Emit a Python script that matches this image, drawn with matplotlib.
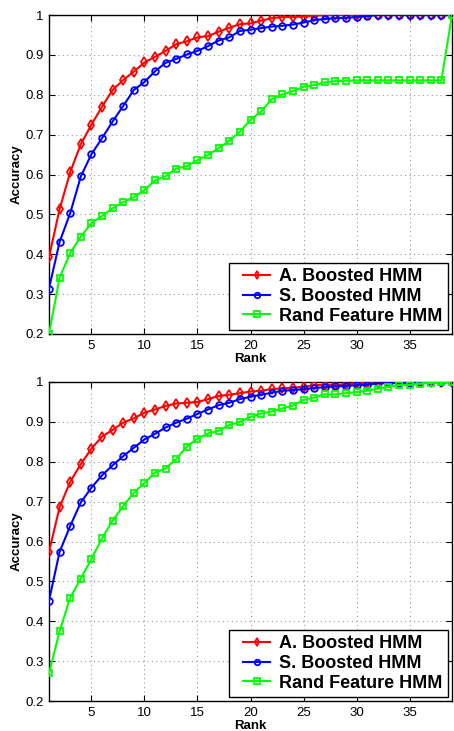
import matplotlib
matplotlib.use("Agg")
import matplotlib.pyplot as plt
from matplotlib.lines import Line2D
from matplotlib.legend_handler import HandlerLine2D

plt.rcParams['font.family'] = ['Liberation Sans', 'DejaVu Sans']

rank = list(range(1, 40))

top_a = [0.393, 0.513, 0.606, 0.676, 0.725, 0.770, 0.812, 0.837, 0.858, 0.881,
         0.895, 0.910, 0.927, 0.934, 0.944, 0.947, 0.958, 0.968, 0.977, 0.979,
         0.986, 0.992, 0.995, 0.995, 0.996, 0.998, 1.0, 1.0, 1.0, 1.0,
         1.0, 1.0, 1.0, 1.0, 1.0, 1.0, 1.0, 1.0, 1.0]
top_s = [0.314, 0.431, 0.503, 0.595, 0.651, 0.691, 0.733, 0.772, 0.812, 0.832,
         0.859, 0.880, 0.890, 0.901, 0.910, 0.922, 0.936, 0.944, 0.960, 0.963,
         0.967, 0.971, 0.973, 0.976, 0.981, 0.987, 0.990, 0.992, 0.993, 0.995,
         0.997, 1.0, 1.0, 1.0, 1.0, 1.0, 1.0, 1.0, 1.0]
top_r = [0.200, 0.341, 0.403, 0.444, 0.478, 0.496, 0.515, 0.531, 0.543, 0.561,
         0.585, 0.596, 0.615, 0.621, 0.636, 0.649, 0.666, 0.685, 0.707, 0.737,
         0.758, 0.789, 0.801, 0.809, 0.820, 0.824, 0.831, 0.834, 0.835, 0.836,
         0.836, 0.836, 0.836, 0.836, 0.836, 0.836, 0.836, 0.836, 1.0]

bot_a = [0.574, 0.686, 0.750, 0.794, 0.833, 0.863, 0.880, 0.898, 0.909, 0.923,
         0.931, 0.940, 0.946, 0.948, 0.950, 0.957, 0.965, 0.968, 0.972, 0.976,
         0.978, 0.982, 0.984, 0.986, 0.988, 0.992, 0.993, 0.993, 0.994, 0.997,
         0.998, 1.0, 1.0, 1.0, 1.0, 1.0, 1.0, 1.0, 1.0]
bot_s = [0.452, 0.574, 0.639, 0.698, 0.735, 0.766, 0.791, 0.814, 0.835, 0.856,
         0.870, 0.886, 0.898, 0.908, 0.920, 0.931, 0.942, 0.948, 0.957, 0.963,
         0.968, 0.973, 0.978, 0.980, 0.982, 0.985, 0.987, 0.989, 0.990, 0.992,
         0.993, 0.997, 0.997, 0.997, 0.998, 1.0, 1.0, 1.0, 1.0]
bot_r = [0.269, 0.375, 0.459, 0.507, 0.556, 0.608, 0.652, 0.689, 0.722, 0.747,
         0.773, 0.783, 0.807, 0.838, 0.858, 0.871, 0.878, 0.892, 0.900, 0.912,
         0.921, 0.926, 0.934, 0.941, 0.955, 0.961, 0.969, 0.969, 0.972, 0.975,
         0.978, 0.983, 0.988, 0.992, 0.993, 0.996, 0.998, 0.999, 1.0]

labels = ['A. Boosted HMM', 'S. Boosted HMM', 'Rand Feature HMM']
xticks = [5, 10, 15, 20, 25, 30, 35]
yticks = [0.2, 0.3, 0.4, 0.5, 0.6, 0.7, 0.8, 0.9, 1.0]
ytick_labels = ['0.2', '0.3', '0.4', '0.5', '0.6', '0.7', '0.8', '0.9', '1']

W, H = 454, 731
fig = plt.figure(figsize=(W / 100, H / 100), dpi=100)

def make_axes(top_px, bottom_px):
    return fig.add_axes([49 / W, 1 - bottom_px / H, 403 / W, (bottom_px - top_px) / H])

panels = [(make_axes(15, 334), top_a, top_s, top_r),
          (make_axes(382, 701), bot_a, bot_s, bot_r)]

for ax, a, s, r in panels:
    ax.plot(rank, a, color=(1, 0, 0), marker='d', markersize=5.2, markerfacecolor='none',
            markeredgewidth=1.3, linewidth=1.5, label=labels[0], zorder=3)
    ax.plot(rank, s, color=(0, 0, 1), marker='o', markersize=4.8, markerfacecolor='none',
            markeredgewidth=1.3, linewidth=1.5, label=labels[1], zorder=3)
    ax.plot(rank, r, color=(0, 1, 0), marker='s', markersize=4.3, markerfacecolor='none',
            markeredgewidth=1.3, linewidth=1.5, label=labels[2], zorder=3)
    ax.set_xlim(1, 39)
    ax.set_ylim(0.2, 1.0)
    ax.set_xticks(xticks)
    ax.set_yticks(yticks)
    ax.set_yticklabels(ytick_labels)
    ax.grid(True, linestyle=(0, (1, 3)), color='#999999', linewidth=0.8)
    ax.tick_params(direction='in', top=True, right=True, labelsize=9.5, length=4, width=0.8, pad=4)
    for sp in ax.spines.values():
        sp.set_linewidth(1.0)
    ax.set_xlabel('Rank', fontsize=9.5, fontweight='bold', labelpad=1)
    ax.set_ylabel('Accuracy', fontsize=9.5, fontweight='bold', labelpad=2)
    leg = ax.legend(loc='lower right', prop={'weight': 'bold', 'size': 13},
                    frameon=True, fancybox=False, edgecolor='black', framealpha=1,
                    handlelength=2.0, handletextpad=0.5, borderpad=0.3, labelspacing=0.15,
                    borderaxespad=0.22,
                    handler_map={Line2D: HandlerLine2D(xpad=0.5)})
    leg.get_frame().set_linewidth(1.0)
    for h in leg.legend_handles:
        h.set_markersize(4)

fig.savefig('out.png', dpi=100)
